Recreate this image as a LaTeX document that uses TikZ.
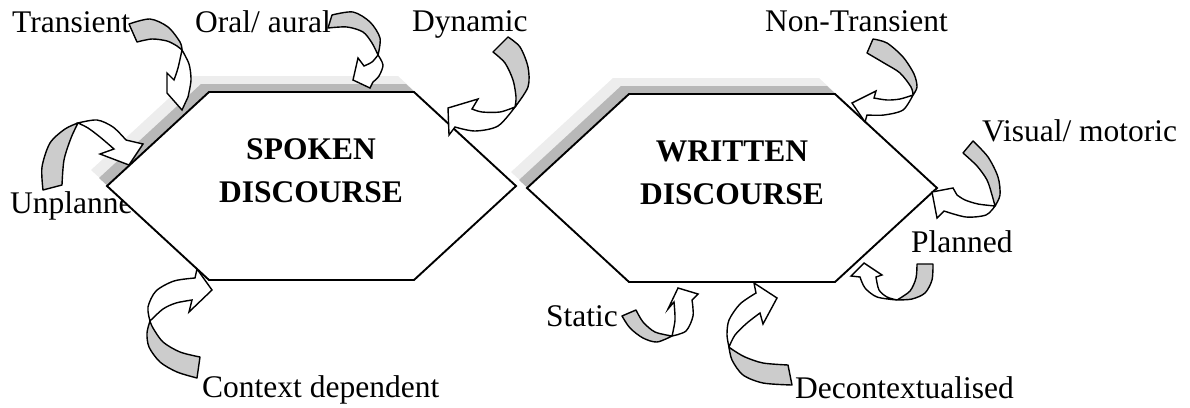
\documentclass[tikz,border=0pt]{standalone}
\usepackage{fontspec}
\setmainfont{Liberation Serif}
\usepackage{tikz}
\usetikzlibrary{positioning,calc}
\definecolor{backside}{gray}{0.8}
\definecolor{shadowdark}{gray}{0.72}
\definecolor{shadowlight}{gray}{0.93}
\tikzset{
	lbl/.style={font=\fontsize{31.5}{36}\selectfont, inner sep=0pt, anchor=base west},
	title/.style={font=\fontsize{31.5}{43}\selectfont\bfseries, align=center, inner sep=0pt},
	hexa/.style={fill=white, draw=black, line width=1.9pt},
	back/.style={fill=backside, draw=black, line width=1.4pt, line join=round},
	front/.style={fill=white, draw=black, line width=1.4pt, line join=miter}
}
\begin{document}
\begin{tikzpicture}[x=1pt, y=-1pt]
	\useasboundingbox (0,0) rectangle (1190,407);
	\node[lbl] (unplanned) at (10,213) {Unplanned};
	\node[lbl] (transient) at (12,32) {Transient};
	\node[lbl] (oral) at (195,32) {Oral/ aural};
	\node[lbl] (dynamic) at (412,31) {Dynamic};
	\node[lbl] (context) at (202,397) {Context dependent};
	\node[lbl] (nontransient) at (765,31) {Non-Transient};
	\node[lbl] (visual) at (982,141) {Visual/ motoric};
	\node[lbl] (planned) at (911,252) {Planned};
	\node[lbl] (static) at (546,326) {Static};
	\node[lbl] (decontext) at (795,398) {Decontextualised};
	\fill[shadowlight, shift={(-16,-16)}] (107,186) -- (209,92) -- (414,92) -- (516,186) -- (414,280) -- (209,280) -- cycle;
	\fill[shadowdark, shift={(-8,-8)}] (107,186) -- (209,92) -- (414,92) -- (516,186) -- (414,280) -- (209,280) -- cycle;
	\draw[hexa] (107,186) -- (209,92) -- (414,92) -- (516,186) -- (414,280) -- (209,280) -- cycle;
	\fill[shadowlight, shift={(-16,-16)}] (527,188) -- (629,94) -- (835,94) -- (937,188) -- (835,282) -- (629,282) -- cycle;
	\fill[shadowdark, shift={(-8,-8)}] (527,188) -- (629,94) -- (835,94) -- (937,188) -- (835,282) -- (629,282) -- cycle;
	\draw[hexa] (527,188) -- (629,94) -- (835,94) -- (937,188) -- (835,282) -- (629,282) -- cycle;
	\node[title] (spoken) at (311,171) {SPOKEN\\DISCOURSE};
	\node[title] (written) at (732,173) {WRITTEN\\DISCOURSE};
	% Transient
	\filldraw[back] plot[smooth] coordinates {(129,24) (150,19) (168,27) (180,42) (182,50)} -- plot[smooth] coordinates {(182,50) (177,46) (167,41) (152,39) (137,42)} -- cycle;
	\filldraw[front] plot[smooth] coordinates {(182,50) (189,64) (191,80) (188,97)} -- (182,110) -- (167,93) -- (167,73) -- (174,80) -- plot[smooth] coordinates {(174,80) (178,68) (182,50)} -- cycle;
	% Oral/ aural
	\filldraw[back] plot[smooth] coordinates {(332,15) (353,12) (370,22) (380,38) (378,55)} -- plot[smooth] coordinates {(378,55) (372,43) (363,32) (347,27) (328,28)} -- cycle;
	\filldraw[front] plot[smooth] coordinates {(378,55) (383,65) (379,76) (373,82)} -- (370,88) -- (353,80) -- (358,58) -- (364,66) -- plot[smooth] coordinates {(364,66) (372,62) (378,55)} -- cycle;
	% Dynamic
	\filldraw[back] plot[smooth] coordinates {(508,37) (520,47) (528,67) (528,87) (515,107)} -- plot[smooth] coordinates {(515,107) (516,97) (513,80) (505,63) (493,52)} -- cycle;
	\filldraw[front] plot[smooth] coordinates {(515,107) (500,112) (482,112) (472,109)} -- (478,99) -- (448,108) -- (449,135) -- (455,127) -- plot[smooth] coordinates {(455,127) (475,131) (498,126) (515,107)} -- cycle;
	% Unplanned
	\filldraw[back] plot[smooth] coordinates {(43,190) (42,167) (50,143) (65,129) (78,123)} -- plot[smooth] coordinates {(78,123) (71,138) (64,160) (62,185)} -- cycle;
	\filldraw[front] plot[smooth] coordinates {(78,123) (97,120) (113,127) (126,140)} -- (143,144) -- (129,165) -- (100,154) -- (114,149) -- plot[smooth] coordinates {(114,149) (100,137) (88,128) (78,123)} -- cycle;
	% Context dependent
	\filldraw[back] plot[smooth] coordinates {(200,357) (180,352) (163,342) (153,328) (150,321)} -- plot[smooth] coordinates {(150,321) (147,333) (149,347) (160,362) (177,372) (197,378)} -- cycle;
	\filldraw[front] plot[smooth] coordinates {(150,321) (148,307) (156,291) (174,281) (195,278)} -- (197,269) -- (212,290) -- (189,312) -- (192,300) -- plot[smooth] coordinates {(192,300) (176,303) (163,309) (150,321)} -- cycle;
	% Non-Transient
	\filldraw[back] plot[smooth] coordinates {(873,39) (887,43) (903,57) (914,74) (917,87) (913,95)} -- plot[smooth] coordinates {(913,95) (911,87) (900,73) (884,63) (867,53)} -- cycle;
	\filldraw[front] plot[smooth] coordinates {(913,95) (900,99) (887,100) (874,98)} -- (876,91) -- (852,103) -- (865,122) -- (867,115) -- plot[smooth] coordinates {(867,115) (884,115) (903,110) (913,95)} -- cycle;
	% Visual/ motoric
	\filldraw[back] plot[smooth] coordinates {(973,141) (988,157) (998,177) (1000,195) (995,206)} -- plot[smooth] coordinates {(995,206) (992,195) (987,180) (977,166) (963,153)} -- cycle;
	\filldraw[front] plot[smooth] coordinates {(995,206) (978,204) (965,200) (957,195)} -- (953,188) -- (932,192) -- (937,218) -- (944,211) -- plot[smooth] coordinates {(944,211) (966,217) (986,215) (995,206)} -- cycle;
	% Planned
	\filldraw[back] plot[smooth] coordinates {(917,264) (916,278) (910,291) (897,300)} -- plot[smooth] coordinates {(897,300) (912,299) (925,293) (932,280) (933,264)} -- cycle;
	\filldraw[front] plot[smooth] coordinates {(897,300) (877,297) (865,288) (860,277)} -- (851,276) -- (864,263) -- (882,275) -- (876,277) -- plot[smooth] coordinates {(876,277) (879,290) (887,297) (897,300)} -- cycle;
	% Static
	\filldraw[back] plot[smooth] coordinates {(622,316) (630,328) (643,338) (657,342) (672,336)} -- plot[smooth] coordinates {(672,336) (655,332) (643,322) (636,310)} -- cycle;
	\filldraw[front] plot[smooth] coordinates {(672,336) (686,331) (693,316) (692,300)} -- (698,294) -- (678,288) -- (668,309) -- (674,302) -- plot[smooth] coordinates {(674,302) (675,320) (672,336)} -- cycle;
	% Decontextualised
	\filldraw[back] plot[smooth] coordinates {(788,365) (763,363) (745,357) (733,350) (729,347)} -- plot[smooth] coordinates {(729,347) (732,360) (743,375) (763,383) (792,385)} -- cycle;
	\filldraw[front] plot[smooth] coordinates {(729,347) (727,335) (729,320) (740,304) (756,293)} -- (754,283) -- (777,298) -- (763,324) -- (760,313) -- plot[smooth] coordinates {(760,313) (747,323) (735,335) (729,347)} -- cycle;
\end{tikzpicture}
\end{document}
